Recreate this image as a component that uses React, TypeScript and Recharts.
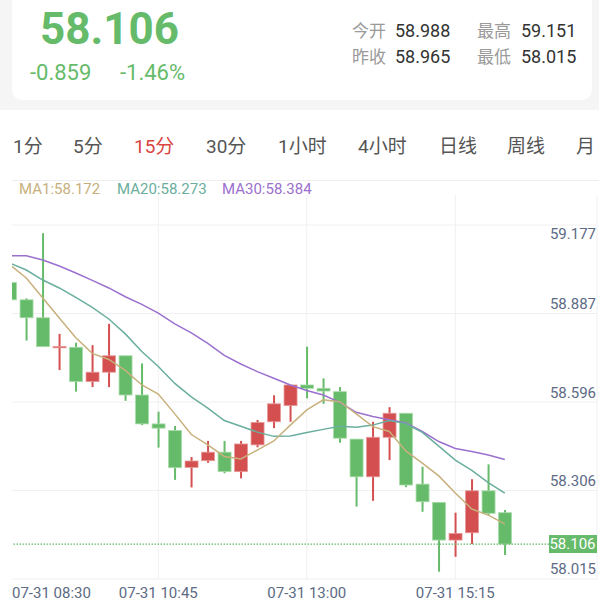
import React from 'react';
import { ComposedChart, Bar, Line, XAxis, YAxis, CartesianGrid, ReferenceLine } from 'recharts';

// ---------- data ----------
const times = [
  '07-31 08:30', '07-31 08:45', '07-31 09:00', '07-31 09:15', '07-31 09:30', '07-31 09:45',
  '07-31 10:00', '07-31 10:15', '07-31 10:30', '07-31 10:45', '07-31 11:00', '07-31 11:15',
  '07-31 11:30', '07-31 11:45', '07-31 12:00', '07-31 12:15', '07-31 12:30', '07-31 12:45',
  '07-31 13:00', '07-31 13:15', '07-31 13:30', '07-31 13:45', '07-31 14:00', '07-31 14:15',
  '07-31 14:30', '07-31 14:45', '07-31 15:00', '07-31 15:15', '07-31 15:30', '07-31 15:45',
  '07-31 16:00',
];
const opens = [58.966, 58.909, 58.850, 58.751, 58.753, 58.640, 58.671, 58.725, 58.596, 58.501, 58.479, 58.358, 58.380, 58.408, 58.344, 58.432, 58.508, 58.561, 58.629, 58.618, 58.607, 58.451, 58.327, 58.457, 58.536, 58.303, 58.243, 58.119, 58.143, 58.281, 58.209];
const highs = [58.968, 58.914, 59.128, 58.797, 58.768, 58.760, 58.830, 58.725, 58.700, 58.541, 58.494, 58.392, 58.445, 58.445, 58.445, 58.514, 58.595, 58.629, 58.755, 58.651, 58.622, 58.451, 58.508, 58.556, 58.536, 58.360, 58.243, 58.209, 58.319, 58.368, 58.218];
const lows = [58.909, 58.775, 58.755, 58.678, 58.607, 58.622, 58.622, 58.577, 58.497, 58.423, 58.317, 58.292, 58.373, 58.339, 58.322, 58.424, 58.487, 58.508, 58.585, 58.567, 58.439, 58.229, 58.248, 58.382, 58.293, 58.212, 58.015, 58.064, 58.106, 58.201, 58.070];
const closes = [58.909, 58.850, 58.755, 58.756, 58.640, 58.671, 58.725, 58.596, 58.501, 58.487, 58.357, 58.379, 58.408, 58.344, 58.435, 58.506, 58.567, 58.629, 58.618, 58.609, 58.454, 58.327, 58.457, 58.536, 58.300, 58.245, 58.119, 58.141, 58.281, 58.207, 58.106];
const ma1 = [59.024, 58.981, 58.915, 58.849, 58.784, 58.733, 58.713, 58.677, 58.629, 58.599, 58.534, 58.466, 58.432, 58.394, 58.386, 58.415, 58.445, 58.497, 58.547, 58.580, 58.574, 58.534, 58.492, 58.476, 58.412, 58.372, 58.330, 58.274, 58.221, 58.201, 58.172];
const ma20 = [59.030, 59.007, 58.974, 58.948, 58.917, 58.884, 58.846, 58.797, 58.739, 58.690, 58.634, 58.590, 58.553, 58.512, 58.493, 58.474, 58.460, 58.461, 58.473, 58.483, 58.493, 58.490, 58.497, 58.512, 58.502, 58.473, 58.428, 58.382, 58.348, 58.308, 58.273];
const ma30 = [59.054, 59.054, 59.040, 59.020, 58.997, 58.973, 58.948, 58.919, 58.894, 58.865, 58.830, 58.800, 58.766, 58.726, 58.698, 58.673, 58.651, 58.629, 58.611, 58.596, 58.572, 58.539, 58.525, 58.515, 58.504, 58.476, 58.443, 58.420, 58.410, 58.399, 58.384];

const yTickLabels = [58.015, 58.306, 58.596, 58.887, 59.177];
const xTickIndexes = [0, 9, 18, 27];
const tabs = ['1分', '5分', '15分', '30分', '1小时', '4小时', '日线', '周线', '月'];
const activeTab = '15分';

const lastPrice = '58.106';
const change = '-0.859';
const changePct = '-1.46%';
const statsRow1 = [['今开', '58.988'], ['最高', '59.151']];
const statsRow2 = [['昨收', '58.965'], ['最低', '58.015']];

const data = times.map((t, i) => ({
  i, t, open: opens[i], high: highs[i], low: lows[i], close: closes[i],
  ma1: ma1[i], ma20: ma20[i], ma30: ma30[i],
}));

// ---------- style ----------
const FONT = "Roboto, 'Noto Sans CJK SC', sans-serif";
const GREEN = '#66bb6a';
const RED = '#d44f4f';
const C_MA1 = '#c8b07c';
const C_MA20 = '#6aae9e';
const C_MA30 = '#9b70cf';
const AXIS_TEXT = '#5c6a84';
const GRID = '#f0f0f0';
const MARGIN = { top: 225, right: 2, bottom: 0, left: 12 };
const X_DOMAIN: [number, number] = [0.133, 35.588];
const Y_DOMAIN: [number, number] = [57.991, 59.155];

const Candle = (props: any) => {
  const { x, y, width, height, payload } = props;
  if (!payload || x == null || y == null) return <g />;
  const { open, close, high, low } = payload;
  const top = Math.min(y, y + height);
  const h = Math.abs(height);
  const range = high - low;
  const k = range > 0 ? h / range : 0;
  const py = (v: number) => top + (high - v) * k;
  const up = close >= open;
  const color = up ? RED : GREEN;
  const edge = up ? '#e79a9a' : '#a9dcab';
  const cx = x + width / 2;
  const bTop = py(Math.max(open, close));
  const bBot = py(Math.min(open, close));
  const bh = Math.max(bBot - bTop, 1.5);
  return (
    <g>
      <line x1={cx} x2={cx} y1={top} y2={top + h} stroke={color} strokeWidth={2} />
      <rect x={cx - width / 2} y={bTop} width={width} height={bh} fill={color} stroke={edge} strokeWidth={0.8} />
    </g>
  );
};

const YTick = (props: any) => {
  const { x, y, payload } = props;
  const ty = Math.max(y, MARGIN.top + 11);
  return (
    <text x={x} y={ty} dy={-2.5} textAnchor="end" dominantBaseline="central" fontSize={15} fontFamily={FONT} fill={AXIS_TEXT}>
      {Number(payload.value).toFixed(3)}
    </text>
  );
};

const XTick = (props: any) => {
  const { x, y, payload } = props;
  const label = times[payload.value];
  const half = 42;
  const atStart = x - half < MARGIN.left;
  return (
    <text x={atStart ? MARGIN.left : x} y={y} dy={6} textAnchor={atStart ? 'start' : 'middle'} dominantBaseline="central" fontSize={15} fontFamily={FONT} fill={AXIS_TEXT}>
      {label}
    </text>
  );
};

const VLine = (p: any) => {
  if (p.x1 < MARGIN.left + 1) return <g />;
  return <line x1={p.x1} x2={p.x2} y1={p.y1 - 30} y2={p.y2} stroke={GRID} strokeWidth={1} />;
};

const PriceLabel = (props: any) => {
  const vb = props.viewBox || {};
  const right = vb.x + vb.width;
  const w = 48;
  return (
    <g>
      <rect x={right - w} y={vb.y - 9} width={w} height={18} fill={GREEN} />
      <text x={right - 1.5} y={vb.y} textAnchor="end" dominantBaseline="central" fontSize={15} fontFamily={FONT} fill="#fff">
        {lastPrice}
      </text>
    </g>
  );
};

const Header = () => {
  const tabX = [13, 73, 134, 206, 278, 358, 439, 507, 576];
  return (
    <svg width={599} height={603} style={{ position: 'absolute', left: 0, top: 0 }}>
      <rect x={0} y={0} width={599} height={110} fill="#f5f5f5" />
      <rect x={12} y={-12} width={580} height={112} rx={10} fill="#ffffff" />
      <text x={40} y={44} fontSize={44} fontWeight={700} fontFamily={FONT} fill={GREEN}>{lastPrice}</text>
      <text x={30} y={80} fontSize={22} fontFamily={FONT} fill={GREEN}>{change}</text>
      <text x={120} y={80} fontSize={22} fontFamily={FONT} fill={GREEN}>{changePct}</text>
      {[statsRow1, statsRow2].map((row, r) => (
        <g key={r}>
          {row.map(([k, v], c) => (
            <g key={k}>
              <text x={352 + c * 125} y={37 + r * 26} fontSize={17} fontFamily={FONT} fill="#9a9a9a">{k}</text>
              <text x={395 + c * 126} y={37 + r * 26} fontSize={18} fontFamily={FONT} fill="#333">{v}</text>
            </g>
          ))}
        </g>
      ))}
      {tabs.map((t, i) => (
        <text key={t} x={tabX[i]} y={153} fontSize={19} fontFamily={FONT} fill={t === activeTab ? '#d9463f' : '#555'}>{t}</text>
      ))}
      <line x1={12} x2={599} y1={180.5} y2={180.5} stroke="#eeeeee" strokeWidth={1} />
      <text x={19} y={194} fontSize={15} fontFamily={FONT} fill={C_MA1}>{`MA1:${ma1[ma1.length - 1].toFixed(3)}`}</text>
      <text x={117} y={194} fontSize={15} fontFamily={FONT} fill={C_MA20}>{`MA20:${ma20[ma20.length - 1].toFixed(3)}`}</text>
      <text x={222} y={194} fontSize={15} fontFamily={FONT} fill={C_MA30}>{`MA30:${ma30[ma30.length - 1].toFixed(3)}`}</text>
    </svg>
  );
};

export default function App() {
  return (
    <div style={{ position: 'absolute', left: 0, top: 0, width: 599, height: 603, background: '#fff', overflow: 'hidden' }}>
      <Header />
      <div style={{ position: 'absolute', left: 0, top: 0 }}>
        <ComposedChart width={599} height={603} data={data} margin={MARGIN}>
          <CartesianGrid
            stroke={GRID}
            horizontalCoordinatesGenerator={({ offset }: any) => [0, 1, 2, 3, 4].map((k) => offset.top + (k * offset.height) / 4)}
            vertical={VLine}
          />
          <XAxis
            type="number"
            dataKey="i"
            domain={X_DOMAIN}
            allowDataOverflow
            ticks={xTickIndexes}
            interval={0}
            height={24}
            tickLine={false}
            axisLine={false}
            tick={(p: any) => <XTick {...p} />}
          />
          <YAxis
            orientation="right"
            mirror
            domain={Y_DOMAIN}
            allowDataOverflow
            ticks={yTickLabels}
            interval={0}
            tickLine={false}
            axisLine={false}
            tickSize={0}
            tickMargin={1}
            tick={(p: any) => <YTick {...p} />}
          />
          <Bar dataKey={(d: any) => [d.low, d.high]} shape={(p: any) => <Candle {...p} />} barSize={13} isAnimationActive={false} />
          <Line type="linear" dataKey="ma30" stroke={C_MA30} strokeWidth={1.5} dot={false} activeDot={false} isAnimationActive={false} />
          <Line type="linear" dataKey="ma20" stroke={C_MA20} strokeWidth={1.5} dot={false} activeDot={false} isAnimationActive={false} />
          <Line type="linear" dataKey="ma1" stroke={C_MA1} strokeWidth={1.5} dot={false} activeDot={false} isAnimationActive={false} />
          <ReferenceLine
            y={Number(lastPrice)}
            stroke={GREEN}
            strokeDasharray="1.5 1.5"
            strokeWidth={1.2}
            ifOverflow="visible"
            label={(p: any) => <PriceLabel {...p} />}
          />
        </ComposedChart>
      </div>
    </div>
  );
}
